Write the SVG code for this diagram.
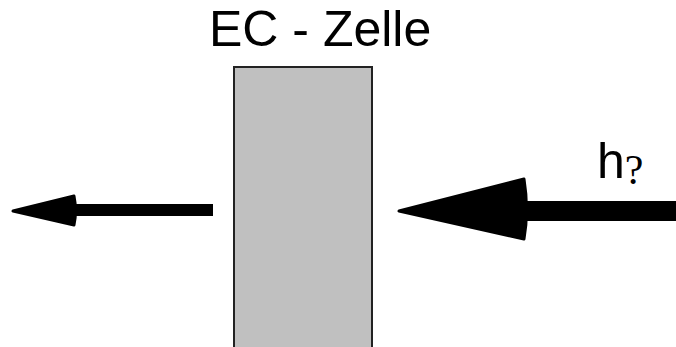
<svg xmlns="http://www.w3.org/2000/svg" width="676" height="347" viewBox="0 0 676 347">
  <style>
    .label { font-family: "Liberation Sans", Arial, sans-serif; fill: #000; }
    .shaft { fill: #000; }
    .head { fill: #000; stroke: #000; stroke-width: 3; stroke-linejoin: round; }
  </style>
  <rect width="676" height="347" fill="#fff"/>

  <!-- cell body -->
  <g id="cell">
    <rect x="234" y="67" width="138" height="284" fill="#c0c0c0" stroke="#222" stroke-width="2"/>
    <text class="label" x="209" y="46" font-size="50">EC - Zelle</text>
  </g>

  <!-- incoming light label -->
  <g id="light-label">
    <text class="label" x="597" y="178" font-size="50">h<tspan font-family="'Liberation Serif', 'Times New Roman', serif" font-size="42" dy="6">?</tspan></text>
  </g>

  <!-- arrows -->
  <g id="connectors">
    <!-- outgoing (left) -->
    <rect class="shaft" x="70" y="204" width="143" height="12"/>
    <path class="head" d="M 13 211 L 74 196 Q 77 211 74 225 Z"/>
    <!-- incoming (right) -->
    <rect class="shaft" x="520" y="201" width="156" height="20"/>
    <path class="head" d="M 399 211 L 524 179 Q 529 210 524 239 Z"/>
  </g>
</svg>
